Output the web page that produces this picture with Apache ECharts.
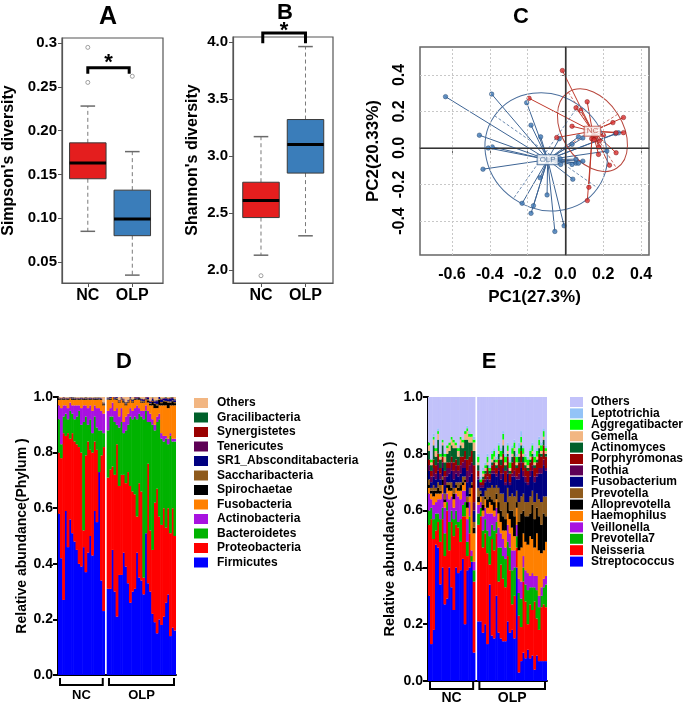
<!DOCTYPE html>
<html><head><meta charset="utf-8">
<script src="https://cdn.jsdelivr.net/npm/echarts@6/dist/echarts.min.js"></script>
<style>html,body{margin:0;padding:0;background:#fff}#c{width:685px;height:703px}</style>
</head><body><div id="c"></div>
<script>
// ---------- Panel A / B : box plots (min, Q1, median, Q3, max) ----------
const groups = ['NC', 'OLP'];
const simpsonNC = [0.085, 0.145, 0.163, 0.186, 0.228];
const simpsonOLP = [0.035, 0.080, 0.099, 0.132, 0.176];
const simpsonOutNC = [0.255, 0.295];
const simpsonOutOLP = [0.262];
const simpsonTicks = [0.05, 0.10, 0.15, 0.20, 0.25, 0.3];
const simpsonTickLabels = ['0.05', '0.10', '0.15', '0.20', '0.25', '0.3'];
const shannonNC = [2.13, 2.46, 2.61, 2.77, 3.17];
const shannonOLP = [2.30, 2.85, 3.10, 3.32, 3.96];
const shannonOutNC = [1.95];
const shannonTicks = [2.0, 2.5, 3.0, 3.5, 4.0];

// ---------- Panel C : PCA ----------
const olpPC1 = [-0.634,-0.390,-0.205,-0.182,-0.131,-0.455,-0.408,-0.387,-0.436,-0.032,0.035,0.069,0.092,-0.134,-0.229,-0.169,-0.182,-0.097,-0.056,-0.007,0.039,-0.025,0.035,0.056,0.069,0.056,0.092,0.219,0.281,0.265,-0.028];
const olpPC2 = [0.281,0.295,0.248,0.125,0.061,0.070,0.000,0.006,-0.116,0.051,0.020,0.061,0.055,-0.163,-0.303,-0.316,-0.358,-0.257,-0.457,-0.426,-0.171,-0.090,-0.090,-0.083,-0.083,-0.061,-0.072,-0.017,0.083,0.079,-0.059];
const ncPC1 = [-0.016,-0.192,0.115,0.056,0.081,0.035,-0.046,0.307,0.251,0.268,0.307,0.201,0.148,0.162,0.139,0.180,0.177,0.175,0.268,0.233,0.124,0.116,0.152];
const ncPC2 = [0.424,0.272,0.253,0.220,0.207,0.119,0.057,0.167,0.139,0.083,0.084,0.070,0.064,0.064,0.051,0.039,0.006,-0.035,-0.026,-0.094,-0.215,-0.288,0.045];
const olpCentroid = [-0.094, -0.064];
const ncCentroid = [0.143, 0.092];
// ellipse: centre x, centre y, semi-major, semi-minor (PC1 units), tilt (deg, clockwise)
const olpEllipse = [-0.102, -0.021, 0.333, 0.302, 35];
const ncEllipse = [0.143, 0.097, 0.238, 0.159, 57.6];
const pcTicksX = [-0.6, -0.4, -0.2, 0.0, 0.2, 0.4];
const pcTicksY = [-0.4, -0.2, 0.0, 0.2, 0.4];

// ---------- Panel D : phylum relative abundance (21 NC + 31 OLP) ----------
const nNC = 21;
const phylumFirmicutes = [0.58,0.42,0.27,0.59,0.46,0.56,0.51,0.48,0.45,0.40,0.39,0.46,0.37,0.44,0.50,0.43,0.59,0.55,0.73,0.34,0.23,
 0.31,0.31,0.45,0.30,0.21,0.36,0.36,0.44,0.39,0.33,0.26,0.30,0.31,0.44,0.35,0.34,0.29,0.51,0.33,0.30,0.22,0.19,0.15,0.20,0.18,0.21,0.26,0.29,0.14,0.17,0.16];
const phylumProteobacteria = [0.22,0.36,0.60,0.27,0.41,0.29,0.36,0.36,0.38,0.42,0.41,0.06,0.42,0.40,0.31,0.37,0.25,0.26,0.00,0.45,0.59,
 0.40,0.43,0.30,0.42,0.62,0.32,0.36,0.28,0.30,0.40,0.42,0.36,0.34,0.13,0.34,0.32,0.06,0.00,0.43,0.22,0.23,0.43,0.52,0.37,0.36,0.39,0.27,0.31,0.37,0.43,0.34];
const phylumBacteroidetes = [0.12,0.05,0.06,0.08,0.05,0.10,0.07,0.08,0.10,0.13,0.10,0.39,0.14,0.06,0.11,0.07,0.09,0.08,0.15,0.09,0.05,
 0.17,0.19,0.18,0.19,0.07,0.21,0.19,0.15,0.19,0.17,0.25,0.26,0.28,0.35,0.25,0.27,0.57,0.44,0.15,0.39,0.45,0.26,0.24,0.35,0.31,0.24,0.32,0.23,0.35,0.24,0.34];
const phylumActinobacteria = [0.05,0.13,0.04,0.03,0.04,0.03,0.03,0.05,0.04,0.02,0.06,0.06,0.04,0.06,0.05,0.08,0.04,0.07,0.08,0.07,0.07,
 0.07,0.03,0.05,0.04,0.06,0.04,0.05,0.04,0.05,0.04,0.03,0.03,0.03,0.05,0.02,0.02,0.03,0.02,0.04,0.03,0.02,0.02,0.02,0.02,0.02,0.02,0.01,0.02,0.01,0.01,0.01];
const phylumFusobacteria = [0.02,0.03,0.02,0.02,0.03,0.015,0.02,0.02,0.02,0.02,0.03,0.02,0.02,0.03,0.02,0.04,0.02,0.03,0.03,0.04,0.03,
 0.04,0.03,0.02,0.04,0.03,0.05,0.03,0.07,0.04,0.04,0.03,0.03,0.03,0.02,0.03,0.03,0.03,0.02,0.03,0.03,0.05,0.06,0.03,0.03,0.10,0.11,0.11,0.11,0.10,0.12,0.12];
const phylumSpirochaetae = [0.003,0.002,0.004,0.002,0.003,0.001,0.004,0.003,0.002,0.003,0.002,0.003,0.004,0.002,0.003,0.002,0.004,0.003,0.002,0.003,0.004,
 0.002,0.004,0.003,0.002,0.004,0.003,0.002,0.005,0.004,0.003,0.002,0.004,0.003,0.002,0.006,0.003,0.004,0.002,0.008,0.005,0.012,0.015,0.010,0.020,0.008,0.015,0.012,0.020,0.010,0.015,0.008];
const phylumSaccharibacteria = [0.002,0.001,0.002,0.002,0.001,0.002,0.001,0.002,0.002,0.001,0.002,0.001,0.002,0.002,0.001,0.002,0.001,0.002,0.002,0.001,0.003,
 0.002,0.003,0.002,0.002,0.003,0.002,0.003,0.002,0.003,0.002,0.003,0.002,0.003,0.002,0.003,0.004,0.002,0.003,0.004,0.003,0.004,0.003,0.005,0.003,0.004,0.003,0.004,0.005,0.004,0.003,0.004];
const phylumSR1 = [0.001,0.001,0.002,0.001,0.001,0.001,0.002,0.001,0.001,0.001,0.002,0.001,0.001,0.001,0.002,0.001,0.001,0.001,0.002,0.001,0.001,
 0.002,0.003,0.002,0.004,0.003,0.002,0.003,0.004,0.002,0.003,0.004,0.003,0.002,0.004,0.003,0.005,0.004,0.003,0.006,0.005,0.008,0.006,0.010,0.007,0.008,0.006,0.009,0.007,0.010,0.008,0.006];
const phylumTenericutes = [0.001,0.001,0.001,0.001,0.001,0.001,0.001,0.001,0.001,0.001,0.001,0.001,0.001,0.001,0.001,0.001,0.001,0.001,0.001,0.001,0.001,
 0.001,0.001,0.002,0.001,0.001,0.001,0.002,0.001,0.001,0.001,0.002,0.001,0.001,0.001,0.002,0.001,0.001,0.001,0.002,0.001,0.002,0.001,0.002,0.001,0.002,0.001,0.002,0.001,0.002,0.001,0.002];
const phylumSynergistetes = [0.001,0.001,0.001,0.001,0.001,0.001,0.001,0.001,0.001,0.001,0.001,0.001,0.001,0.001,0.001,0.001,0.001,0.001,0.001,0.001,0.001,
 0.001,0.002,0.001,0.001,0.002,0.001,0.001,0.002,0.001,0.001,0.002,0.001,0.001,0.002,0.001,0.001,0.002,0.001,0.001,0.002,0.001,0.002,0.001,0.002,0.001,0.002,0.001,0.002,0.001,0.002,0.001];
const phylumGracilibacteria = [0.001,0.001,0.001,0.001,0.001,0.001,0.001,0.001,0.001,0.001,0.001,0.001,0.001,0.001,0.001,0.001,0.001,0.001,0.001,0.001,0.001,
 0.001,0.001,0.001,0.001,0.001,0.001,0.001,0.001,0.001,0.001,0.001,0.001,0.001,0.001,0.001,0.001,0.001,0.001,0.001,0.001,0.002,0.001,0.002,0.001,0.002,0.001,0.002,0.001,0.002,0.001,0.002];
const phylumOthers = [0.03,0.03,0.03,0.03,0.03,0.03,0.03,0.03,0.03,0.03,0.03,0.03,0.03,0.03,0.03,0.03,0.03,0.03,0.03,0.03,0.04,
 0.035,0.035,0.035,0.035,0.035,0.035,0.035,0.035,0.035,0.035,0.035,0.035,0.035,0.035,0.035,0.035,0.035,0.035,0.035,0.035,0.035,0.035,0.035,0.035,0.035,0.035,0.035,0.035,0.035,0.035,0.035];

// ---------- Panel E : genus relative abundance (21 NC + 31 OLP) ----------
const genusStreptococcus = [0.30,0.13,0.18,0.48,0.47,0.34,0.40,0.27,0.29,0.40,0.33,0.25,0.40,0.38,0.39,0.43,0.20,0.39,0.40,0.42,0.10,
 0.21,0.21,0.17,0.20,0.13,0.34,0.16,0.15,0.30,0.17,0.15,0.14,0.14,0.21,0.17,0.18,0.15,0.40,0.03,0.07,0.10,0.08,0.11,0.08,0.09,0.04,0.09,0.07,0.07,0.07,0.07];
const genusNeisseria = [0.25,0.44,0.32,0.05,0.09,0.15,0.17,0.17,0.31,0.06,0.23,0.26,0.15,0.16,0.10,0.15,0.38,0.05,0.12,0.00,0.25,
 0.34,0.37,0.30,0.32,0.32,0.07,0.34,0.31,0.22,0.18,0.26,0.22,0.19,0.23,0.22,0.09,0.15,0.07,0.20,0.12,0.25,0.20,0.09,0.19,0.16,0.24,0.13,0.11,0.19,0.20,0.19];
const genusPrevotella7 = [0.05,0.04,0.07,0.06,0.03,0.08,0.04,0.08,0.03,0.10,0.04,0.06,0.05,0.02,0.08,0.04,0.05,0.05,0.06,0.02,0.04,
 0.04,0.03,0.06,0.05,0.08,0.10,0.05,0.07,0.04,0.12,0.06,0.08,0.10,0.05,0.08,0.12,0.10,0.04,0.08,0.10,0.05,0.06,0.12,0.06,0.08,0.05,0.10,0.08,0.04,0.06,0.08];
const genusVeillonella = [0.06,0.03,0.05,0.04,0.05,0.07,0.05,0.09,0.03,0.08,0.05,0.04,0.06,0.09,0.07,0.05,0.04,0.08,0.05,0.02,0.03,
 0.03,0.02,0.05,0.04,0.06,0.08,0.04,0.05,0.05,0.07,0.05,0.06,0.04,0.06,0.05,0.07,0.06,0.04,0.05,0.06,0.04,0.05,0.06,0.04,0.05,0.04,0.05,0.04,0.03,0.03,0.03];
const genusHaemophilus = [0.02,0.02,0.03,0.03,0.02,0.02,0.03,0.02,0.02,0.03,0.02,0.03,0.02,0.02,0.03,0.02,0.03,0.04,0.02,0.22,0.10,
 0.01,0.02,0.02,0.03,0.02,0.04,0.03,0.02,0.03,0.05,0.04,0.03,0.06,0.04,0.05,0.08,0.05,0.06,0.10,0.12,0.08,0.10,0.10,0.14,0.12,0.10,0.15,0.16,0.12,0.10,0.12];
const genusAlloprevotella = [0.01,0.01,0.02,0.01,0.02,0.01,0.02,0.01,0.01,0.02,0.01,0.02,0.01,0.01,0.02,0.01,0.01,0.02,0.01,0.01,0.02,
 0.02,0.01,0.02,0.01,0.03,0.02,0.02,0.03,0.02,0.04,0.04,0.05,0.04,0.04,0.03,0.06,0.07,0.02,0.10,0.12,0.08,0.09,0.10,0.08,0.12,0.10,0.09,0.12,0.10,0.13,0.09];
const genusPrevotella = [0.02,0.01,0.02,0.01,0.02,0.02,0.01,0.02,0.01,0.01,0.02,0.02,0.01,0.02,0.01,0.02,0.01,0.02,0.02,0.01,0.02,
 0.03,0.01,0.03,0.02,0.04,0.03,0.05,0.05,0.03,0.05,0.06,0.08,0.06,0.05,0.05,0.06,0.07,0.04,0.07,0.06,0.06,0.05,0.05,0.06,0.05,0.06,0.05,0.06,0.08,0.06,0.07];
const genusFusobacterium = [0.03,0.02,0.03,0.03,0.04,0.02,0.03,0.03,0.02,0.03,0.04,0.03,0.03,0.02,0.03,0.03,0.03,0.05,0.04,0.03,0.04,
 0.03,0.01,0.03,0.03,0.03,0.02,0.04,0.05,0.03,0.06,0.05,0.07,0.06,0.05,0.04,0.06,0.07,0.04,0.08,0.10,0.06,0.07,0.06,0.07,0.07,0.07,0.06,0.09,0.10,0.11,0.09];
const genusRothia = [0.02,0.02,0.03,0.02,0.03,0.02,0.02,0.03,0.03,0.02,0.03,0.03,0.03,0.02,0.03,0.02,0.03,0.04,0.04,0.04,0.03,
 0.01,0.01,0.01,0.01,0.01,0.01,0.01,0.01,0.01,0.01,0.02,0.02,0.01,0.02,0.01,0.01,0.02,0.01,0.02,0.02,0.02,0.02,0.01,0.02,0.02,0.02,0.01,0.02,0.02,0.02,0.01];
const genusPorphyromonas = [0.02,0.02,0.03,0.03,0.03,0.02,0.02,0.02,0.02,0.02,0.02,0.03,0.02,0.02,0.03,0.02,0.03,0.04,0.03,0.04,0.13,
 0.02,0.01,0.02,0.02,0.03,0.02,0.02,0.03,0.02,0.03,0.03,0.05,0.04,0.04,0.03,0.04,0.05,0.03,0.04,0.04,0.03,0.03,0.04,0.03,0.03,0.03,0.04,0.05,0.04,0.05,0.04];
const genusActinomyces = [0.03,0.02,0.05,0.03,0.05,0.03,0.04,0.03,0.03,0.04,0.04,0.05,0.04,0.03,0.04,0.03,0.04,0.07,0.05,0.03,0.05,
 0.02,0.00,0.01,0.01,0.01,0.01,0.01,0.01,0.01,0.02,0.02,0.03,0.02,0.01,0.01,0.02,0.02,0.01,0.02,0.02,0.02,0.01,0.01,0.01,0.01,0.01,0.01,0.02,0.01,0.02,0.01];
const genusGemella = [0.02,0.01,0.02,0.02,0.02,0.01,0.01,0.02,0.02,0.02,0.02,0.02,0.01,0.02,0.02,0.02,0.02,0.03,0.02,0.02,0.03,
 0.01,0.00,0.01,0.01,0.01,0.00,0.01,0.01,0.01,0.01,0.01,0.02,0.01,0.01,0.01,0.01,0.01,0.01,0.01,0.01,0.01,0.01,0.01,0.01,0.01,0.01,0.01,0.01,0.01,0.01,0.01];
const genusAggregatibacter = [0.01,0.01,0.01,0.01,0.01,0.01,0.01,0.01,0.01,0.01,0.01,0.01,0.01,0.01,0.01,0.01,0.01,0.01,0.01,0.01,0.01,
 0.02,0.01,0.01,0.01,0.02,0.01,0.02,0.02,0.01,0.02,0.02,0.02,0.02,0.02,0.02,0.02,0.02,0.02,0.02,0.02,0.02,0.02,0.02,0.02,0.02,0.02,0.02,0.02,0.02,0.02,0.01];
const genusLeptotrichia = [0,0,0.01,0,0.01,0,0,0,0,0,0,0,0,0,0,0,0,0.01,0.01,0,0.01,
 0.01,0.01,0.01,0.01,0.01,0.01,0.01,0.01,0.01,0.01,0.01,0.01,0.01,0.01,0.01,0.01,0.01,0.01,0.02,0.02,0.01,0.01,0.01,0.01,0.01,0.01,0.01,0.01,0.01,0.01,0.01];
const genusOthers = [0.17,0.23,0.14,0.19,0.12,0.21,0.16,0.21,0.18,0.17,0.15,0.16,0.17,0.19,0.15,0.16,0.13,0.11,0.13,0.14,0.15,
 0.21,0.29,0.26,0.24,0.21,0.25,0.20,0.19,0.22,0.17,0.19,0.13,0.21,0.17,0.23,0.18,0.16,0.21,0.17,0.13,0.18,0.21,0.22,0.19,0.17,0.21,0.19,0.15,0.17,0.12,0.18];

// ---------- build ----------
const FONT = '"Liberation Sans", Arial, sans-serif';
const withGap = a => a.slice(0, nNC).concat([null], a.slice(nNC));
const sampleCats = [];
for (let i = 0; i < phylumFirmicutes.length; i++) {
  if (i === nNC) sampleCats.push('');
  sampleCats.push(i < nNC ? 'NC' + (i + 1) : 'OLP' + (i - nNC + 1));
}
const groupSpans = [[0, nNC - 1, 'NC'], [nNC + 1, sampleCats.length - 1, 'OLP']];

const phyla = [
  ['Firmicutes', phylumFirmicutes, '#0000FF'],
  ['Proteobacteria', phylumProteobacteria, '#FF0000'],
  ['Bacteroidetes', phylumBacteroidetes, '#00B300'],
  ['Actinobacteria', phylumActinobacteria, '#A812E0'],
  ['Fusobacteria', phylumFusobacteria, '#FF8000'],
  ['Spirochaetae', phylumSpirochaetae, '#000000'],
  ['Saccharibacteria', phylumSaccharibacteria, '#8E5A1C'],
  ['SR1_Absconditabacteria', phylumSR1, '#000080'],
  ['Tenericutes', phylumTenericutes, '#5E0055'],
  ['Synergistetes', phylumSynergistetes, '#9A0000'],
  ['Gracilibacteria', phylumGracilibacteria, '#00602A'],
  ['Others', phylumOthers, '#F2B682']
];
const genera = [
  ['Streptococcus', genusStreptococcus, '#0000FF'],
  ['Neisseria', genusNeisseria, '#FF0000'],
  ['Prevotella7', genusPrevotella7, '#00B300'],
  ['Veillonella', genusVeillonella, '#A812E0'],
  ['Haemophilus', genusHaemophilus, '#FF8000'],
  ['Alloprevotella', genusAlloprevotella, '#000000'],
  ['Prevotella', genusPrevotella, '#8E5A1C'],
  ['Fusobacterium', genusFusobacterium, '#000080'],
  ['Rothia', genusRothia, '#5E0055'],
  ['Porphyromonas', genusPorphyromonas, '#9A0000'],
  ['Actinomyces', genusActinomyces, '#00602A'],
  ['Gemella', genusGemella, '#F2B682'],
  ['Aggregatibacter', genusAggregatibacter, '#00FF00'],
  ['Leptotrichia', genusLeptotrichia, '#93C3F7'],
  ['Others ', genusOthers, '#C2C2FA']
];

function boxRender(fill) {
  return function (params, api) {
    const x = api.value(0);
    const lo = api.coord([x, api.value(1)]), q1 = api.coord([x, api.value(2)]),
      md = api.coord([x, api.value(3)]), q3 = api.coord([x, api.value(4)]), hi = api.coord([x, api.value(5)]);
    const hw = api.size([0.41, 0])[0], cw = hw * 0.4, cx = md[0];
    const wl = { stroke: '#7a7a7a', lineWidth: 1, lineDash: [4, 3] };
    const cap = { stroke: '#6a6a6a', lineWidth: 1.5 };
    return { type: 'group', children: [
      { type: 'line', shape: { x1: cx, y1: q3[1], x2: cx, y2: hi[1] }, style: wl },
      { type: 'line', shape: { x1: cx, y1: q1[1], x2: cx, y2: lo[1] }, style: wl },
      { type: 'line', shape: { x1: cx - cw, y1: hi[1], x2: cx + cw, y2: hi[1] }, style: cap },
      { type: 'line', shape: { x1: cx - cw, y1: lo[1], x2: cx + cw, y2: lo[1] }, style: cap },
      { type: 'rect', shape: { x: cx - hw, y: q3[1], width: 2 * hw, height: q1[1] - q3[1] }, style: { fill: fill, stroke: '#3a3a3a', lineWidth: 1 } },
      { type: 'line', shape: { x1: cx - hw, y1: md[1], x2: cx + hw, y2: md[1] }, style: { stroke: '#000', lineWidth: 3 } }
    ] };
  };
}
function bracketRender(params, api) {
  const a = api.coord([api.value(0), api.value(3)]), b = api.coord([api.value(1), api.value(2)]);
  const s = api.coord([(api.value(0) + api.value(1)) / 2, api.value(4)]);
  return { type: 'group', children: [
    { type: 'polyline', shape: { points: [[a[0], a[1]], [a[0], b[1]], [b[0], b[1]], [b[0], a[1]]] }, style: { stroke: '#000', lineWidth: 3, fill: 'none' } },
    { type: 'text', style: { text: '*', x: s[0], y: s[1], fill: '#000', font: 'bold 22px ' + FONT, align: 'center', verticalAlign: 'middle' } }
  ] };
}
function groupBracket(drop, legLen, textDrop, fs) {
  return function (params, api) {
    const s = api.coord([api.value(0), 0]), e = api.coord([api.value(1), 0]);
    const bw = api.size([1, 0])[0];
    const x1 = s[0] - bw / 2 + 2, x2 = e[0] + bw / 2 - 2, y = s[1] + drop;
    return { type: 'group', children: [
      { type: 'polyline', shape: { points: [[x1, y - legLen], [x1, y], [x2, y], [x2, y - legLen]] }, style: { stroke: '#000', lineWidth: 2, fill: 'none' } },
      { type: 'text', style: { text: api.value(2), x: (x1 + x2) / 2, y: s[1] + textDrop, fill: '#000', font: 'bold ' + fs + 'px ' + FONT, align: 'center', verticalAlign: 'middle' } }
    ] };
  };
}
function ellipseRender(color) {
  return function (params, api) {
    const c = api.coord([api.value(0), api.value(1)]);
    const rx = api.size([api.value(2), 0])[0], ry = api.size([api.value(3), 0])[0];
    const ang = api.value(4) * Math.PI / 180;
    const ca = Math.cos(ang), sa = Math.sin(ang);
    const dash = { stroke: color, lineWidth: 0.8, lineDash: [3, 2] };
    return { type: 'group', children: [
      { type: 'ellipse', shape: { cx: c[0], cy: c[1], rx: rx, ry: ry }, rotation: -ang, originX: c[0], originY: c[1], style: { fill: 'none', stroke: color, lineWidth: 1 } },
      { type: 'line', shape: { x1: c[0] - rx * ca, y1: c[1] - rx * sa, x2: c[0] + rx * ca, y2: c[1] + rx * sa }, style: dash },
      { type: 'line', shape: { x1: c[0] + ry * sa, y1: c[1] - ry * ca, x2: c[0] - ry * sa, y2: c[1] + ry * ca }, style: dash }
    ] };
  };
}
function spokeRender(centroid, color) {
  return function (params, api) {
    const p = api.coord([api.value(0), api.value(1)]), c = api.coord(centroid);
    return { type: 'line', shape: { x1: p[0], y1: p[1], x2: c[0], y2: c[1] }, style: { stroke: color, lineWidth: 1 } };
  };
}
const zip = (a, b) => a.map((v, i) => [v, b[i]]);

const boxAxisLabel = { fontFamily: FONT, fontWeight: 'bold', color: '#000' };
const series = [];
// A
series.push({ type: 'custom', xAxisIndex: 0, yAxisIndex: 0, renderItem: boxRender('#E41E1E'), data: [[1].concat(simpsonNC)] });
series.push({ type: 'custom', xAxisIndex: 0, yAxisIndex: 0, renderItem: boxRender('#3A7DBA'), data: [[2].concat(simpsonOLP)] });
series.push({ type: 'scatter', xAxisIndex: 0, yAxisIndex: 0, symbolSize: 4, itemStyle: { color: '#fff', borderColor: '#888', borderWidth: 1 },
  data: simpsonOutNC.map(v => [1, v]).concat(simpsonOutOLP.map(v => [2, v])) });
series.push({ type: 'custom', xAxisIndex: 0, yAxisIndex: 0, renderItem: bracketRender, data: [[1.0, 1.93, 0.2716, 0.2650, 0.277]] });
// B
series.push({ type: 'custom', xAxisIndex: 1, yAxisIndex: 1, renderItem: boxRender('#E41E1E'), data: [[1].concat(shannonNC)] });
series.push({ type: 'custom', xAxisIndex: 1, yAxisIndex: 1, renderItem: boxRender('#3A7DBA'), data: [[2].concat(shannonOLP)] });
series.push({ type: 'scatter', xAxisIndex: 1, yAxisIndex: 1, symbolSize: 4, itemStyle: { color: '#fff', borderColor: '#888', borderWidth: 1 },
  data: shannonOutNC.map(v => [1, v]) });
series.push({ type: 'custom', xAxisIndex: 1, yAxisIndex: 1, renderItem: bracketRender, data: [[1.04, 2.0, 4.079, 3.99, 4.095]] });
// C
const gridLines = pcTicksX.filter(v => v !== 0).map(v => ({ xAxis: v })).concat(pcTicksY.filter(v => v !== 0).map(v => ({ yAxis: v })));
series.push({ type: 'line', xAxisIndex: 2, yAxisIndex: 2, data: [], silent: true,
  markLine: { silent: true, symbol: 'none', label: { show: false }, lineStyle: { color: '#c8c8c8', type: [2, 2], width: 1 }, data: gridLines } });
series.push({ type: 'line', xAxisIndex: 2, yAxisIndex: 2, data: [], silent: true,
  markLine: { silent: true, symbol: 'none', label: { show: false }, lineStyle: { color: '#333', type: 'solid', width: 1.2 }, data: [{ xAxis: 0 }, { yAxis: 0 }] } });
series.push({ type: 'custom', xAxisIndex: 2, yAxisIndex: 2, renderItem: spokeRender(olpCentroid, '#3D6494'), data: zip(olpPC1, olpPC2) });
series.push({ type: 'custom', xAxisIndex: 2, yAxisIndex: 2, renderItem: spokeRender(ncCentroid, '#C0392B'), data: zip(ncPC1, ncPC2) });
series.push({ type: 'custom', xAxisIndex: 2, yAxisIndex: 2, renderItem: ellipseRender('#4A6E9C'), data: [olpEllipse] });
series.push({ type: 'custom', xAxisIndex: 2, yAxisIndex: 2, renderItem: ellipseRender('#B8473D'), data: [ncEllipse] });
series.push({ type: 'scatter', xAxisIndex: 2, yAxisIndex: 2, symbolSize: 4.5, itemStyle: { color: '#3F78B5', borderColor: '#24456e', borderWidth: 0.6 }, data: zip(olpPC1, olpPC2) });
series.push({ type: 'scatter', xAxisIndex: 2, yAxisIndex: 2, symbolSize: 4.5, itemStyle: { color: '#D93030', borderColor: '#7a1515', borderWidth: 0.6 }, data: zip(ncPC1, ncPC2) });
const centroidLabel = (c, txt, color) => ({ type: 'scatter', xAxisIndex: 2, yAxisIndex: 2, symbolSize: 0, data: [c],
  label: { show: true, position: 'inside', formatter: txt, color: color, fontSize: 8, fontFamily: FONT, backgroundColor: '#fff', borderColor: color, borderWidth: 1, padding: [1, 2, 0, 2] } });
series.push(centroidLabel(olpCentroid, 'OLP', '#3D6494'));
series.push(centroidLabel(ncCentroid, 'NC', '#B8473D'));
// D
phyla.forEach(p => series.push({ type: 'bar', name: p[0], stack: 'phylum', xAxisIndex: 3, yAxisIndex: 3, barWidth: 2.8, data: withGap(p[1]),
  itemStyle: { color: p[2] } }));
series.push({ type: 'custom', xAxisIndex: 3, yAxisIndex: 3, renderItem: groupBracket(10, 7, 20, 13), data: groupSpans });
// E
genera.forEach(p => series.push({ type: 'bar', name: p[0], stack: 'genus', xAxisIndex: 4, yAxisIndex: 4, barWidth: 2.8, data: withGap(p[1]),
  itemStyle: { color: p[2] } }));
series.push({ type: 'custom', xAxisIndex: 4, yAxisIndex: 4, renderItem: groupBracket(8, 7, 17, 14), data: groupSpans });

const frameAxis = { lineStyle: { color: '#555', width: 1.2 } };
const option = {
  animation: false,
  textStyle: { fontFamily: FONT },
  title: [
    { text: 'A', left: 108, top: 5, textAlign: 'center', padding: 0, textStyle: { fontSize: 25, fontWeight: 'bold', color: '#000', fontFamily: FONT } },
    { text: 'B', left: 285, top: 2, textAlign: 'center', padding: 0, textStyle: { fontSize: 22, fontWeight: 'bold', color: '#000', fontFamily: FONT } },
    { text: 'C', left: 521, top: 6, textAlign: 'center', padding: 0, textStyle: { fontSize: 22, fontWeight: 'bold', color: '#000', fontFamily: FONT } },
    { text: 'D', left: 124, top: 351, textAlign: 'center', padding: 0, textStyle: { fontSize: 22, fontWeight: 'bold', color: '#000', fontFamily: FONT } },
    { text: 'E', left: 489, top: 351, textAlign: 'center', padding: 0, textStyle: { fontSize: 22, fontWeight: 'bold', color: '#000', fontFamily: FONT } }
  ],
  legend: [
    { orient: 'vertical', left: 189, top: 392, itemWidth: 14, itemHeight: 10, itemGap: 2.5, selectedMode: false, icon: 'rect',
      data: phyla.map(p => p[0]).reverse(),
      textStyle: { fontSize: 12, fontWeight: 'bold', color: '#000', lineHeight: 12, padding: [0, 0, 0, 4], fontFamily: FONT } },
    { orient: 'vertical', left: 565, top: 391, itemWidth: 13, itemHeight: 10, itemGap: -0.6, selectedMode: false, icon: 'rect',
      data: genera.map(p => p[0]).reverse(),
      textStyle: { fontSize: 12, fontWeight: 'bold', color: '#000', lineHeight: 10, padding: [0, 0, 0, 3], fontFamily: FONT } }
  ],
  grid: [
    { left: 61, top: 38, width: 102, height: 245, show: true, borderColor: '#555', borderWidth: 1.2, backgroundColor: 'transparent' },
    { left: 233, top: 37, width: 100, height: 246, show: true, borderColor: '#555', borderWidth: 1.2, backgroundColor: 'transparent' },
    { left: 420, top: 47, width: 229, height: 208, show: true, borderColor: '#666', borderWidth: 1.5, backgroundColor: 'transparent' },
    { left: 58, top: 397, width: 118, height: 278 },
    { left: 428, top: 397, width: 119, height: 284 }
  ],
  xAxis: [
    { gridIndex: 0, type: 'value', min: 0.42, max: 2.69, splitLine: { show: false }, axisLine: frameAxis,
      axisTick: { customValues: [1, 2], length: 4, lineStyle: { color: '#555' } },
      axisLabel: Object.assign({ customValues: [1, 2], formatter: v => groups[Math.round(v) - 1], fontSize: 16, margin: 5 }, boxAxisLabel) },
    { gridIndex: 1, type: 'value', min: 0.371, max: 2.618, splitLine: { show: false }, axisLine: frameAxis,
      axisTick: { customValues: [1, 2], length: 4, lineStyle: { color: '#555' } },
      axisLabel: Object.assign({ customValues: [1, 2], formatter: v => groups[Math.round(v) - 1], fontSize: 16, margin: 5 }, boxAxisLabel) },
    { gridIndex: 2, type: 'value', min: -0.769, max: 0.442, splitLine: { show: false }, axisLine: { lineStyle: { color: '#666', width: 1.5 } },
      axisTick: { customValues: pcTicksX, length: 5, lineStyle: { color: '#666' } },
      axisLabel: Object.assign({ customValues: pcTicksX, formatter: v => v.toFixed(1), fontSize: 16, margin: 12 }, boxAxisLabel),
      name: 'PC1(27.3%)', nameLocation: 'middle', nameGap: 34, nameTextStyle: { fontSize: 17, fontWeight: 'bold', color: '#000', fontFamily: FONT } },
    { gridIndex: 3, type: 'category', data: sampleCats, axisTick: { show: false }, axisLabel: { show: false },
      axisLine: { lineStyle: { color: '#000', width: 2 } } },
    { gridIndex: 4, type: 'category', data: sampleCats, axisTick: { show: false }, axisLabel: { show: false },
      axisLine: { lineStyle: { color: '#000', width: 2 } } }
  ],
  yAxis: [
    { gridIndex: 0, type: 'value', min: 0.026, max: 0.3057, splitLine: { show: false }, axisLine: { show: true, lineStyle: { color: '#555', width: 1.2 } },
      axisTick: { show: true, customValues: simpsonTicks, length: 4, lineStyle: { color: '#555' } },
      axisLabel: Object.assign({ customValues: simpsonTicks, formatter: v => simpsonTickLabels[simpsonTicks.findIndex(t => Math.abs(t - v) < 1e-9)], fontSize: 15, margin: 5 }, boxAxisLabel),
      name: "Simpson's diversity", nameLocation: 'middle', nameGap: 45, nameTextStyle: { fontSize: 16, fontWeight: 'bold', color: '#000', fontFamily: FONT } },
    { gridIndex: 1, type: 'value', min: 1.886, max: 4.044, splitLine: { show: false }, axisLine: { show: true, lineStyle: { color: '#555', width: 1.2 } },
      axisTick: { show: true, customValues: shannonTicks, length: 4, lineStyle: { color: '#555' } },
      axisLabel: Object.assign({ customValues: shannonTicks, formatter: v => v.toFixed(1), fontSize: 15, margin: 5 }, boxAxisLabel),
      name: "Shannon's diversity", nameLocation: 'middle', nameGap: 32, nameTextStyle: { fontSize: 16, fontWeight: 'bold', color: '#000', fontFamily: FONT } },
    { gridIndex: 2, type: 'value', min: -0.586, max: 0.553, splitLine: { show: false }, axisLine: { show: true, lineStyle: { color: '#666', width: 1.5 } },
      axisTick: { show: true, customValues: pcTicksY, length: 5, lineStyle: { color: '#666' } },
      axisLabel: Object.assign({ customValues: pcTicksY, formatter: v => v.toFixed(1), fontSize: 16, margin: 12, rotate: 90 }, boxAxisLabel),
      name: 'PC2(20.33%)', nameLocation: 'middle', nameGap: 38, nameTextStyle: { fontSize: 17, fontWeight: 'bold', color: '#000', fontFamily: FONT } },
    { gridIndex: 3, type: 'value', min: 0, max: 1, interval: 0.2, splitLine: { show: false },
      axisLine: { show: true, lineStyle: { color: '#000', width: 2 } }, axisTick: { show: true, length: 5, lineStyle: { color: '#000', width: 2 } },
      axisLabel: Object.assign({ formatter: v => v.toFixed(1), fontSize: 14, margin: 5 }, boxAxisLabel),
      name: 'Relative abundance(Phylum )', nameLocation: 'middle', nameGap: 28, nameTextStyle: { fontSize: 14, fontWeight: 'bold', color: '#000', fontFamily: FONT } },
    { gridIndex: 4, type: 'value', min: 0, max: 1, interval: 0.2, splitLine: { show: false },
      axisLine: { show: true, lineStyle: { color: '#000', width: 2 } }, axisTick: { show: true, length: 5, lineStyle: { color: '#000', width: 2 } },
      axisLabel: Object.assign({ formatter: v => v.toFixed(1), fontSize: 14, margin: 5 }, boxAxisLabel),
      name: 'Relative abundance(Genus )', nameLocation: 'middle', nameGap: 31, nameTextStyle: { fontSize: 14.5, fontWeight: 'bold', color: '#000', fontFamily: FONT } }
  ],
  series: series
};
const chart = echarts.init(document.getElementById('c'), null, { renderer: 'canvas' });
chart.setOption(option);
</script>
</body></html>
